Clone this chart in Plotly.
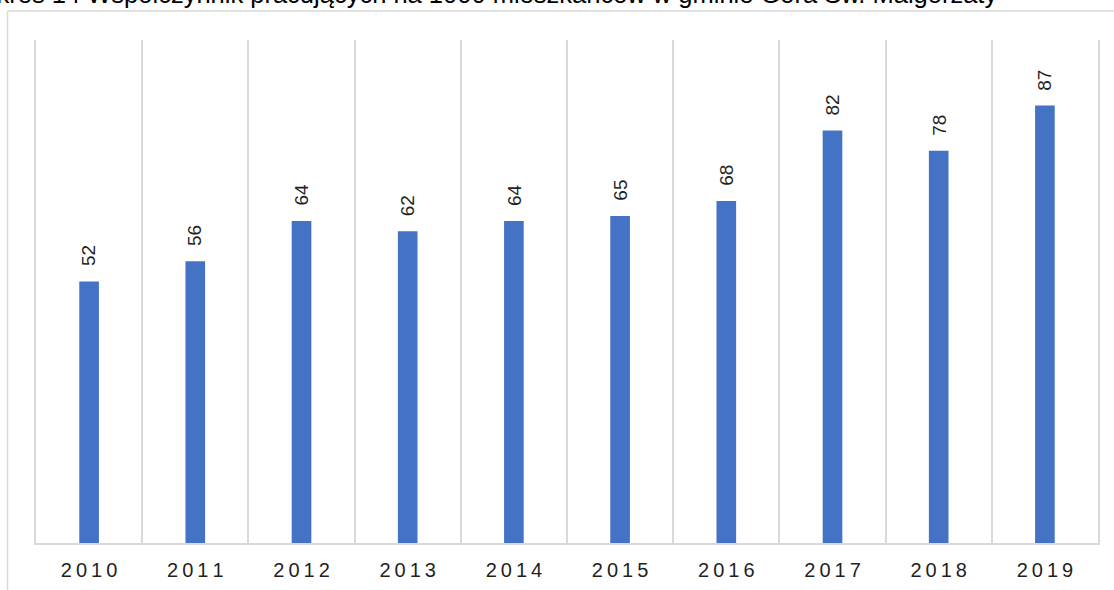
import plotly.graph_objects as go

years = ["2010", "2011", "2012", "2013", "2014", "2015", "2016", "2017", "2018", "2019"]
values = [52, 56, 64, 62, 64, 65, 68, 82, 78, 87]
tick_labels = ["\u2009".join(y) for y in years]
title_text = "Wykres 14 Współczynnik pracujących na 1000 mieszkańców w gminie Góra Św. Małgorzaty"

W, H = 1114, 590
L, R, T, B = 36, 16, 40, 47
pw, ph = W - L - R, H - T - B

def px_x(p):
    return (p - L) / pw

def px_y(p):
    return (H - B - p) / ph

grid = "#d9d9d9"
font = "Liberation Sans, Arial, sans-serif"

fig = go.Figure(
    go.Bar(
        x=list(range(len(years))),
        y=values,
        marker=dict(color="#4472C4", line=dict(width=0)),
        width=0.185,
        hovertext=years,
        hoverinfo="text+y",
    )
)

annotations = [
    dict(
        x=i, y=v, xref="x", yref="y",
        text=str(v), textangle=-90, showarrow=False,
        xanchor="center", yanchor="bottom", yshift=13,
        font=dict(family=font, size=19, color="#1f1f1f"),
    )
    for i, v in enumerate(values)
]
annotations.append(
    dict(
        x=px_x(999), y=px_y(-6), xref="paper", yref="paper",
        text=title_text, showarrow=False,
        xanchor="right", yanchor="middle",
        font=dict(family=font, size=25.5, color="#000000"),
    )
)

shapes = [
    dict(type="line", xref="paper", yref="paper",
         x0=px_x(7.5), x1=px_x(7.5), y0=px_y(11), y1=px_y(620),
         line=dict(color=grid, width=1.5)),
    dict(type="line", xref="paper", yref="paper",
         x0=px_x(7.5), x1=px_x(1130), y0=px_y(11), y1=px_y(11),
         line=dict(color=grid, width=1.5)),
]

fig.update_layout(
    width=W, height=H,
    margin=dict(l=L, r=R, t=T, b=B, pad=0, autoexpand=False),
    paper_bgcolor="white", plot_bgcolor="white",
    showlegend=False,
    annotations=annotations,
    shapes=shapes,
    xaxis=dict(
        tickmode="array", tickvals=list(range(len(years))), ticktext=tick_labels,
        ticks="", showgrid=False, automargin=False,
        minor=dict(tickmode="array", tickvals=[i - 0.5 for i in range(len(years) + 1)],
                   showgrid=True, gridcolor=grid, gridwidth=1.5, ticks=""),
        showline=True, linecolor=grid, linewidth=1.5, zeroline=False,
        tickfont=dict(family=font, size=20, color="#1f1f1f"),
        ticklabelstandoff=8,
        range=[-0.5, len(years) - 0.5], fixedrange=True,
    ),
    yaxis=dict(
        range=[0, 100], showgrid=False, zeroline=False, automargin=False,
        showticklabels=False, ticks="",
        showline=True, mirror=True, linecolor=grid, linewidth=1.5,
        fixedrange=True,
    ),
)

fig.write_html(
    "out.html",
    config={"displayModeBar": False},
    post_script="document.body.style.margin='0';document.body.style.overflow='hidden';",
)
